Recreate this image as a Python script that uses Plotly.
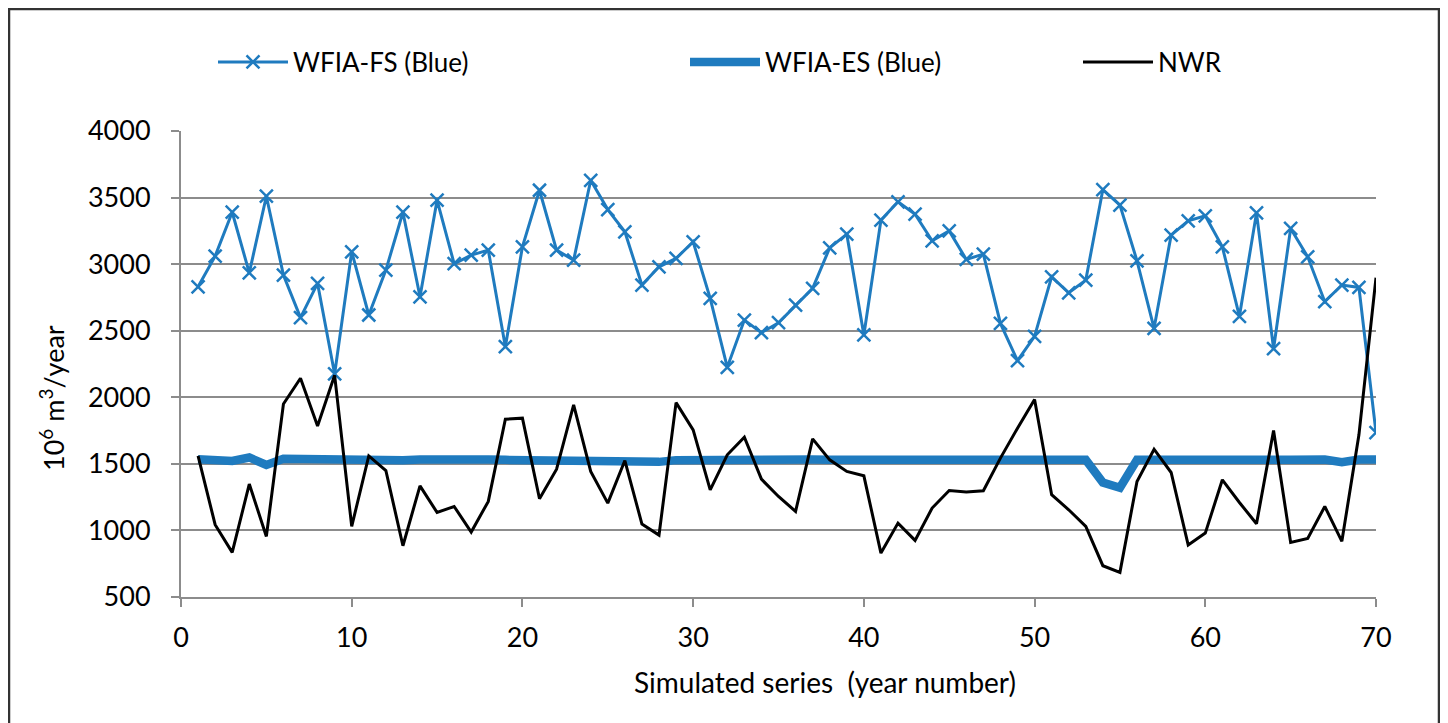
import plotly.graph_objects as go

years = list(range(1, 71))

wfia_fs = [2830, 3060, 3390, 2935, 3510, 2918, 2598, 2855, 2175, 3093,
           2618, 2955, 3390, 2755, 3480, 3003, 3068, 3105, 2380, 3130,
           3555, 3105, 3030, 3630, 3410, 3243, 2843, 2980, 3043, 3168,
           2743, 2225, 2580, 2485, 2560, 2693, 2818, 3123, 3225, 2468,
           3330, 3468, 3375, 3175, 3250, 3035, 3075, 2555, 2275, 2458,
           2905, 2785, 2880, 3560, 3443, 3025, 2518, 3218, 3325, 3363,
           3130, 2608, 3385, 2365, 3268, 3055, 2718, 2843, 2825, 1735]

wfia_es = [1535, 1530, 1522, 1548, 1492, 1538, 1535, 1532, 1538, 1537,
           1537, 1530, 1528, 1532, 1528, 1530, 1530, 1532, 1530, 1528,
           1530, 1532, 1530, 1532, 1530, 1530, 1528, 1515, 1528, 1530,
           1532, 1530, 1530, 1530, 1530, 1530, 1532, 1530, 1530, 1530,
           1530, 1528, 1522, 1528, 1530, 1530, 1532, 1532, 1532, 1535,
           1532, 1530, 1530, 1360, 1320, 1530, 1532, 1530, 1530, 1530,
           1532, 1532, 1530, 1530, 1530, 1530, 1532, 1512, 1532, 1532]

nwr = [1560, 1043, 835, 1348, 955, 1950, 2143, 1785, 2165, 1030,
       1560, 1450, 885, 1335, 1135, 1180, 988, 1218, 1835, 1843,
       1238, 1460, 1943, 1443, 1205, 1525, 1048, 965, 1960, 1755,
       1305, 1568, 1700, 1385, 1255, 1143, 1688, 1530, 1443, 1410,
       830, 1055, 925, 1168, 1300, 1288, 1298, 1543, 1768, 1983,
       1268, 1155, 1030, 735, 685, 1368, 1610, 1435, 890, 980,
       1380, 1210, 1050, 1750, 910, 940, 1180, 918, 1718, 2898]

x_ticks = [0, 10, 20, 30, 40, 50, 60, 70]
y_ticks = [500, 1000, 1500, 2000, 2500, 3000, 3500, 4000]

BLUE = "#1f7bbf"
GRID = "#8c8c8c"
FONT = "Lato"

OFF = 8  # page offset of the figure div
W, H = 1440, 715
# plot area in page pixels: x 181..1376, y 131..597
L = 181 - OFF
T = 131 - OFF
R = W - (1376 - OFF)
B = H - (597 - OFF)
PW = W - L - R
PH = H - T - B


def px_x(p):
    return (p - OFF - L) / PW


def px_y(p):
    return (H - B - (p - OFF)) / PH


fig = go.Figure()
fig.add_trace(go.Scatter(
    x=years, y=wfia_fs, mode="lines+markers", name="WFIA-FS (Blue)",
    line=dict(color=BLUE, width=3),
    marker=dict(symbol="x-thin", size=13, line=dict(color=BLUE, width=2.5)),
    legend="legend", showlegend=True))
fig.add_trace(go.Scatter(
    x=years, y=wfia_es, mode="lines", name="WFIA-ES (Blue)",
    line=dict(color=BLUE, width=8.5),
    legend="legend2", showlegend=True))
fig.add_trace(go.Scatter(
    x=years, y=nwr, mode="lines", name="NWR",
    line=dict(color="black", width=3),
    legend="legend3", showlegend=True))

leg_common = dict(orientation="h", yanchor="middle", xanchor="left",
                  font=dict(family=FONT, size=26, color="black"),
                  bgcolor="rgba(0,0,0,0)", itemwidth=70)

fig.update_layout(
    width=W, height=H,
    showlegend=True,
    margin=dict(l=L, r=R, t=T, b=B),
    paper_bgcolor="white", plot_bgcolor="white",
    font=dict(family=FONT, size=26, color="black"),
    legend=dict(x=px_x(213), y=px_y(62), **leg_common),
    legend2=dict(x=px_x(685), y=px_y(62), **leg_common),
    legend3=dict(x=px_x(1078), y=px_y(62), **leg_common),
    xaxis=dict(range=[0, 70], tickvals=x_ticks, ticktext=[str(v) for v in x_ticks],
               showgrid=False, zeroline=False, showline=True,
               linecolor=GRID, linewidth=2, ticks="outside", ticklen=8,
               tickwidth=2, tickcolor=GRID, ticklabelstandoff=8,
               tickfont=dict(family=FONT, size=27, color="black")),
    yaxis=dict(range=[500, 4000], tickvals=y_ticks, ticktext=[str(v) for v in y_ticks],
               showgrid=True, gridcolor=GRID, gridwidth=2, zeroline=False,
               showline=True, linecolor=GRID, linewidth=2, ticks="outside",
               ticklen=8, tickwidth=2, tickcolor=GRID, ticklabelstandoff=15,
               tickfont=dict(family=FONT, size=27, color="black")),
    annotations=[
        dict(text="10<sup>6</sup> m<sup>3</sup>/year", xref="paper", yref="paper",
             x=px_x(52), y=px_y(398), textangle=-90, showarrow=False,
             xanchor="center", yanchor="middle",
             font=dict(family=FONT, size=27, color="black")),
        dict(text="Simulated series&nbsp;&nbsp;(year number)", xref="paper", yref="paper",
             x=px_x(825), y=px_y(682), showarrow=False,
             xanchor="center", yanchor="middle",
             font=dict(family=FONT, size=28, color="black")),
    ],
    shapes=[
        dict(type="path", xref="paper", yref="paper",
             path=f"M {px_x(9)},{px_y(740)} L {px_x(9)},{px_y(9)} L {px_x(1439)},{px_y(9)} L {px_x(1439)},{px_y(740)}",
             line=dict(color="#333333", width=2.5), layer="above"),
    ],
)

fig.write_html("out.html")
